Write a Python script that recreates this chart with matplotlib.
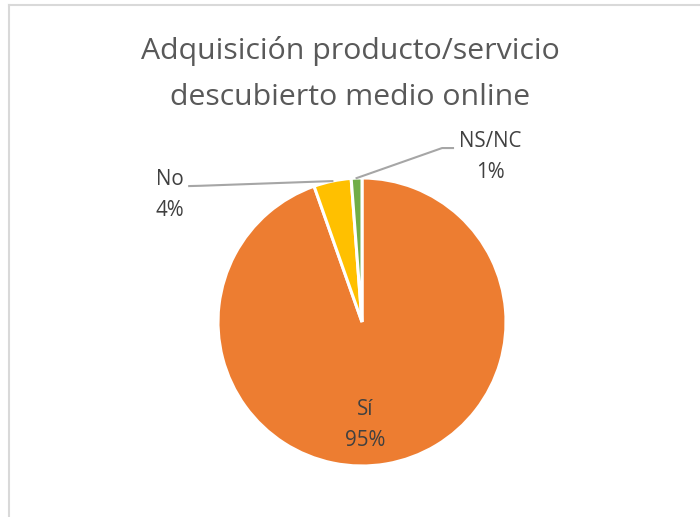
import numpy as np
import matplotlib
matplotlib.use("Agg")
import matplotlib.pyplot as plt
from matplotlib.lines import Line2D

# data
labels = ["Sí", "No", "NS/NC"]
values = [94.6, 4.2, 1.2]
pct_text = ["95%", "4%", "1%"]
colors = ["#ED7D31", "#FFC000", "#70AD47"]

title = "Adquisición producto/servicio\ndescubierto medio online"

plt.rcParams['font.family'] = ['Open Sans', 'DejaVu Sans']

W, H = 700, 517
fig = plt.figure(figsize=(W / 100, H / 100), dpi=100)
fig.patch.set_facecolor("white")

# chart-area border (only left and top edges are visible in the crop)
border = "#D9D9D9"
fig.add_artist(Line2D([8.5 / W, 8.5 / W], [0, 1 - 5 / H], color=border, lw=1.5, transform=fig.transFigure))
fig.add_artist(Line2D([8.5 / W, 1], [1 - 5 / H, 1 - 5 / H], color=border, lw=1.5, transform=fig.transFigure))

fig.text(0.5, 1 - 74 / H, title, ha="center", va="center", fontsize=21.8,
         color="#595959", linespacing=1.78)

# pie axes: centre at (362, 322) px, radius 144 px
cx, cy, r = 362, 322, 144
ax = fig.add_axes([(cx - r) / W, 1 - (cy + r) / H, 2 * r / W, 2 * r / H])
wedges, _ = ax.pie(values, colors=colors, startangle=90, counterclock=False,
                   wedgeprops=dict(edgecolor="white", linewidth=2.2))
ax.set_xlim(-1, 1)
ax.set_ylim(-1, 1)
ax.set_aspect("equal")
ax.axis("off")


def outer_mid(w):
    a = np.deg2rad((w.theta1 + w.theta2) / 2)
    return np.cos(a), np.sin(a)


lab_col = "#404040"
lab_fs = 14.8
lead = "#A6A6A6"
ls = 1.65

# Sí label inside the slice
ax.text(0.02, -0.715, labels[0] + "\n" + pct_text[0], ha="center", va="center",
        fontsize=lab_fs, color=lab_col, linespacing=ls, clip_on=False)

# No label with leader line
ax.text(-1.333, 0.882, labels[1] + "\n" + pct_text[1], ha="center", va="center",
        fontsize=lab_fs, color=lab_col, linespacing=ls, clip_on=False)
px, py = outer_mid(wedges[1])
ax.plot([-1.20, -1.12, px], [0.944, 0.946, py], color=lead, lw=1.5, clip_on=False)

# NS/NC label with leader line
ax.text(0.889, 1.146, labels[2] + "\n" + pct_text[2], ha="center", va="center",
        fontsize=lab_fs, color=lab_col, linespacing=ls, clip_on=False)
px, py = outer_mid(wedges[2])
ax.plot([px, 0.556, 0.632], [py, 1.208, 1.208], color=lead, lw=1.5, clip_on=False)

fig.savefig("out.png", dpi=100, facecolor="white")
